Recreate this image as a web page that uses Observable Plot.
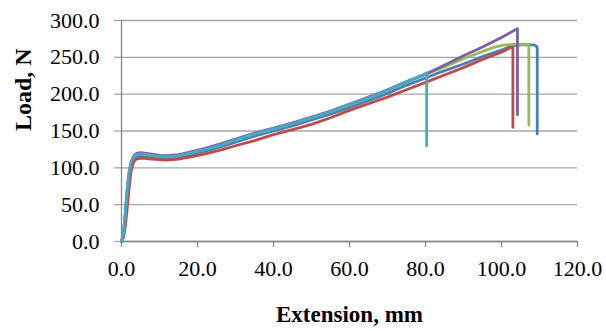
<!DOCTYPE html>
<html>
<head>
<meta charset="utf-8">
<script src="https://cdn.jsdelivr.net/npm/d3@7"></script>
<script src="https://cdn.jsdelivr.net/npm/@observablehq/plot@0.6"></script>
<style>
  html, body { margin: 0; padding: 0; background: #fff; }
</style>
</head>
<body>
<div id="chart"></div>
<script>
// ---- data ----
const xTicks = [0, 20, 40, 60, 80, 100, 120];
const yTicks = [0, 50, 100, 150, 200, 250, 300];
const xLabel = "Extension, mm";
const yLabel = "Load, N";

const baseX = [0,0.5,1,1.5,2,2.5,3,3.5,4,5,6,8,10,12,15,18,22,26,30,35,40,45,50,55,60,65,70,75];

const blueX = baseX.concat([80,84,90,95,100,102.5,105,108.5,109.2,109.4,109.4]);
const blueY = [0,9,34,66,91,104,111,114,115.5,116.5,116,114.5,113,112.5,114,117.5,122.5,128.5,135,143,150,157,165,173,182,191,201,212,
               222,230,241,251,260,265,267,267,265,262,146];

const redX = [0,0.5,1,1.5,2,2.5,3,3.5,4,5,6,8,10,12,15,18,22,26,30,35,40,45,50,55,60,65,70,75,80,84,90,95,100,102.8,103,103];
const redY = [0,5,20,45,72,95,105,110,112,113,113,112,111,110.5,112,114.5,119,124,130,137,145,152,159,168,178,187,196,206,
              216,224,236,247,257,264,263,155];

const greenX = baseX.concat([80,84,90,95,98,100.5,103,107,107.2,107.2]);
const greenY = [0,11,38,70,94,107,113.5,116.5,118,119,118.5,117,115.5,115,116.5,120,125,131,138,146,153,160,168,176,185.5,195,205,216,
                227,235,248,258,263.5,266.5,267.5,268,267,158];

const purpleX = baseX.concat([80,84,90,95,100,104.2,104.2]);
const purpleY = [0,10,36,68,93,107,114,118,119.5,120.5,120,118.5,117,116.5,118,121.5,126.5,132.5,139,147,154,161,169,177,186.5,196,206,217,
                 227,237,252,264,277,289,172];

const cyanX = baseX.concat([80,80.3,80.3]);
const cyanY = [0,12,40,72,95,107,113,116.5,118,119,118.5,117,115.5,115,116.5,120,125,131,138,146,153,160,168,176,186,195,205,216,
               228,229,130];

const seriesNames = ["S1", "S2", "S3", "S4", "S5"];
const seriesColors = ["#4A7EBB", "#BE4B48", "#98B954", "#7D60A0", "#46AAC5"];
const seriesXs = [blueX, redX, greenX, purpleX, cyanX];
const seriesYs = [blueY, redY, greenY, purpleY, cyanY];

// ---- table built from arrays ----
const rows = [];
seriesNames.forEach((name, i) => {
  seriesXs[i].forEach((x, j) => rows.push({series: name, x, y: seriesYs[i][j]}));
});

const font = "Liberation Serif";
const gridColor = "#a6a6a6";
const axisColor = "#868686";
const fmt = d => d.toFixed(1);

const chart = Plot.plot({
  width: 606,
  height: 331,
  marginLeft: 121,
  marginRight: 29,
  marginTop: 20,
  marginBottom: 90,
  style: {fontFamily: font, fontSize: "22px", color: "#000", background: "#fff"},
  x: {domain: [0, 120], label: null},
  y: {domain: [0, 300], label: null},
  color: {domain: seriesNames, range: seriesColors},
  marks: [
    Plot.gridY(yTicks, {stroke: gridColor, strokeOpacity: 1, strokeWidth: 1.3}),
    Plot.axisY(yTicks, {tickSize: 7, stroke: gridColor, strokeWidth: 1.3, tickFormat: () => "", label: null}),
    Plot.axisX(xTicks, {tickSize: 6, stroke: axisColor, strokeWidth: 1.3, tickFormat: () => "", label: null}),
    Plot.ruleX([0], {stroke: axisColor, strokeWidth: 1.3}),
    Plot.ruleY([0], {stroke: axisColor, strokeWidth: 1.3}),
    Plot.text(yTicks, {y: d => d, text: fmt, frameAnchor: "left", textAnchor: "end", dx: -22, fontSize: 22, fontFamily: font, fill: "#000"}),
    Plot.text(xTicks, {x: d => d, text: fmt, frameAnchor: "bottom", dy: 34, fontSize: 22, fontFamily: font, fill: "#000"}),
    Plot.line(rows, {x: "x", y: "y", z: "series", stroke: "series", strokeWidth: 2.8, strokeLinejoin: "round"}),
    Plot.text([yLabel], {text: d => d, frameAnchor: "left", dx: -98, rotate: -90, fontWeight: "bold", fontSize: 24, fontFamily: font, fill: "#000"}),
    Plot.text([xLabel], {text: d => d, frameAnchor: "bottom", dy: 80, fontWeight: "bold", fontSize: 23, fontFamily: font, fill: "#000"})
  ]
});
document.getElementById("chart").appendChild(chart);
</script>
</body>
</html>
